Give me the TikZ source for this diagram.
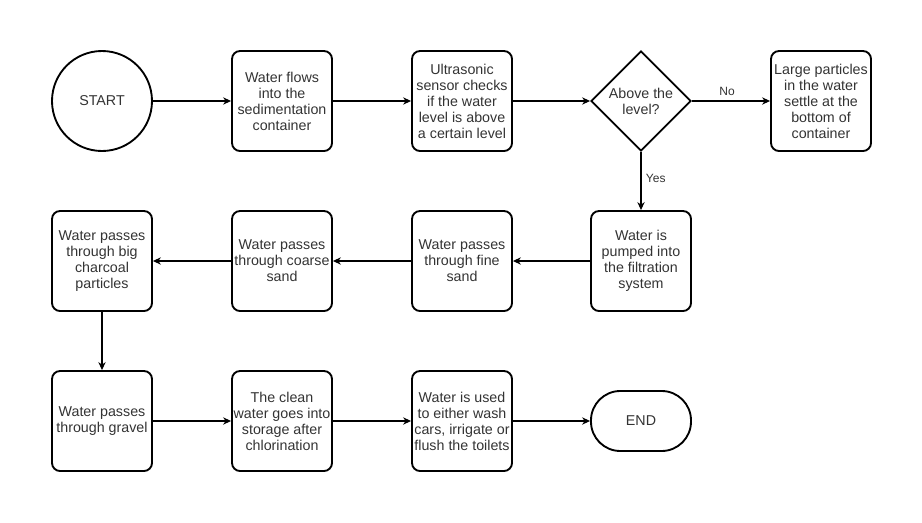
\documentclass[tikz,border=0pt]{standalone}
\usepackage{fontspec}
\setmainfont{Liberation Sans}
\usetikzlibrary{arrows.meta,shapes.geometric,positioning}

\begin{document}
\begin{tikzpicture}[x=0.75pt,y=-0.75pt,
    txt/.style={font=\fontsize{10.7}{12}\selectfont,text=black!80},
    box/.style={txt,draw,line width=1.4pt,rounded corners=6pt,minimum width=75pt,minimum height=75pt,align=center,inner sep=1pt},
    startnode/.style={txt,draw,line width=1.4pt,circle,minimum size=75pt,inner sep=0pt},
    decision/.style={txt,draw,line width=1.4pt,diamond,aspect=1,minimum width=75pt,minimum height=75pt,inner sep=0pt,align=center},
    endnode/.style={txt,draw,line width=1.4pt,rounded corners=22pt,minimum width=75pt,minimum height=45pt},
    flow/.style={draw,line width=0.8pt,-{Stealth[length=6pt,width=5.5pt]}},
    lbl/.style={font=\fontsize{9}{11}\selectfont,text=black!80}]
    %%%%% START %%%%%
    \useasboundingbox (0,0) rectangle (922,522);

    % first row
    \node[startnode] (start) at (102,101) {START};
    \node[box] (inflow) at (282,101) {Water flows\\into the\\sedimentation\\container};
    \node[box] (sensor) at (462,101) {Ultrasonic\\sensor checks\\if the water\\level is above\\a certain level};
    \node[decision] (level) at (641,101) {Above the\\level?};
    \node[box] (settle) at (821,101) {Large particles\\in the water\\settle at the\\bottom of\\container};

    % second row
    \node[box] (pump) at (641,261) {Water is\\pumped into\\the filtration\\system};
    \node[box] (fine) at (462,261) {Water passes\\through fine\\sand};
    \node[box] (coarse) at (282,261) {Water passes\\through coarse\\sand};
    \node[box] (charcoal) at (102,261) {Water passes\\through big\\charcoal\\particles};

    % third row
    \node[box] (gravel) at (102,421) {Water passes\\through gravel};
    \node[box] (storage) at (282,421) {The clean\\water goes into\\storage after\\chlorination};
    \node[box] (reuse) at (462,421) {Water is used\\to either wash\\cars, irrigate or\\flush the toilets};
    \node[endnode] (finish) at (641,421) {END};

    % connectors
    \draw[flow] (start) -- (inflow);
    \draw[flow] (inflow) -- (sensor);
    \draw[flow] (sensor) -- (level);
    \draw[flow] (level) -- node[lbl,above,pos=0.45] {No} (settle);
    \draw[flow] (level) -- node[lbl,right,pos=0.45] {Yes} (pump);
    \draw[flow] (pump) -- (fine);
    \draw[flow] (fine) -- (coarse);
    \draw[flow] (coarse) -- (charcoal);
    \draw[flow] (charcoal) -- (gravel);
    \draw[flow] (gravel) -- (storage);
    \draw[flow] (storage) -- (reuse);
    \draw[flow] (reuse) -- (finish);
    %%%%% END %%%%%
\end{tikzpicture}
\end{document}
